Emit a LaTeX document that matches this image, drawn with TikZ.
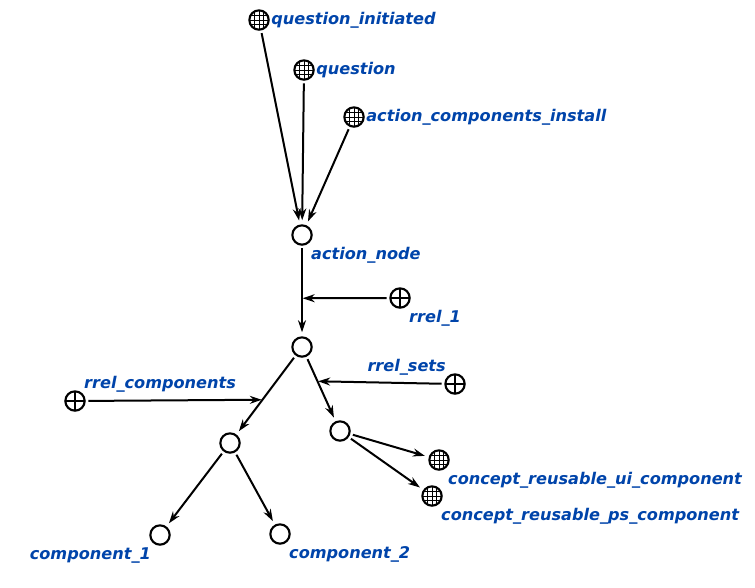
\documentclass[tikz,border=0pt]{standalone}
\usepackage{fontspec}
\setmainfont{DejaVu Sans}
\usetikzlibrary{arrows.meta,positioning}
\definecolor{idtfblue}{RGB}{0,68,170}
\tikzset{>={Stealth[length=9pt,width=6pt]}}
\tikzset{scnode/.style = {shape=circle,draw,line width=1.6pt,minimum size=14.5pt,inner sep=0pt}}
\tikzset{scclass/.style = {scnode,path picture={
    \foreach \d in {-4.5,0,4.5}{
        \draw[line width=0.7pt] ([shift={(\d,-10)}]path picture bounding box.center) -- ([shift={(\d,10)}]path picture bounding box.center);
        \draw[line width=0.7pt] ([shift={(-10,\d)}]path picture bounding box.center) -- ([shift={(10,\d)}]path picture bounding box.center);
    }}}}
\tikzset{screl/.style = {scnode,path picture={
    \draw[line width=1.3pt] ([shift={(0,-10)}]path picture bounding box.center) -- ([shift={(0,10)}]path picture bounding box.center);
    \draw[line width=1.3pt] ([shift={(-10,0)}]path picture bounding box.center) -- ([shift={(10,0)}]path picture bounding box.center);
    }}}
\tikzset{idtf/.style = {text=idtfblue,font=\fontsize{12.1}{14}\selectfont\bfseries\itshape,inner sep=1pt}}
\tikzset{arc/.style = {->,line width=1.5pt,shorten >=3pt,shorten <=2pt}}
\tikzset{onarc/.style = {->,line width=1.5pt,shorten >=0.5pt,shorten <=2pt}}

\begin{document}
\begin{tikzpicture}[x=0.75pt,y=-0.75pt]
    \useasboundingbox (0,0) rectangle (755,587);

    \node[scclass] (qinit) at (259,20) {};
    \node[scclass] (quest) at (304,70) {};
    \node[scclass] (install) at (354,117) {};
    \node[scnode] (action) at (302,235) {};
    \node[screl] (rrelone) at (400,298) {};
    \node[scnode] (tuple) at (302,347) {};
    \node[screl] (rrelsets) at (455,384) {};
    \node[screl] (rrelcomp) at (75,401) {};
    \node[scnode] (comps) at (230,443) {};
    \node[scnode] (sets) at (340,431) {};
    \node[scclass] (uicomp) at (439,460) {};
    \node[scclass] (pscomp) at (432,496) {};
    \node[scnode] (compone) at (160,535) {};
    \node[scnode] (comptwo) at (280,534) {};

    \node[idtf,right=0pt of qinit] (qinit-l) {question\_initiated};
    \node[idtf,right=0pt of quest] (quest-l) {question};
    \node[idtf,right=0pt of install] (install-l) {action\_components\_install};
    \node[idtf,below right=2.5pt and 0pt of action] (action-l) {action\_node};
    \node[idtf,below right=2.5pt and 0pt of rrelone] (rrelone-l) {rrel\_1};
    \node[idtf,above left=0pt of rrelsets] (rrelsets-l) {rrel\_sets};
    \node[idtf,above right=0pt of rrelcomp] (rrelcomp-l) {rrel\_components};
    \node[idtf,below right=2pt and 0pt of uicomp] (uicomp-l) {concept\_reusable\_ui\_component};
    \node[idtf,below right=2.5pt and 0pt of pscomp] (pscomp-l) {concept\_reusable\_ps\_component};
    \node[idtf,below left=2.5pt and 0pt of compone] (compone-l) {component\_1};
    \node[idtf,below right=2.5pt and 0pt of comptwo] (comptwo-l) {component\_2};

    \draw[arc] (qinit) -- (action);
    \draw[arc] (quest) -- (action);
    \draw[arc] (install) -- (action);
    \draw[arc] (action) -- coordinate[pos=0.58] (e1) (tuple);
    \draw[arc] (tuple) -- coordinate[pos=0.56] (e2) (comps);
    \draw[arc] (tuple) -- coordinate[pos=0.38] (e3) (sets);
    \draw[onarc] (rrelone) -- (e1);
    \draw[onarc] (rrelcomp) -- (e2);
    \draw[onarc] (rrelsets) -- (e3);

    \draw[arc] (comps) -- (compone);
    \draw[arc] (comps) -- (comptwo);
    \draw[arc] (sets) -- (uicomp);
    \draw[arc] (sets) -- (pscomp);
\end{tikzpicture}
\end{document}
